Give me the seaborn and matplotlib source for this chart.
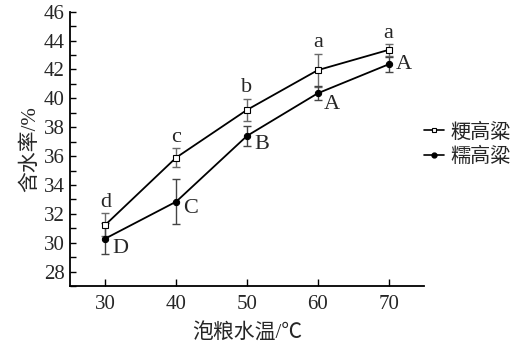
import numpy as np
import pandas as pd
import matplotlib
matplotlib.use("Agg")
import matplotlib.pyplot as plt
import seaborn as sns
from matplotlib.lines import Line2D
from matplotlib.ticker import MultipleLocator

temps = [30, 40, 50, 60, 70]
japonica = [31.25, 35.9, 39.2, 41.95, 43.35]
japonica_err = [0.8, 0.65, 0.78, 1.15, 0.4]
glutinous = [30.3, 32.85, 37.4, 40.35, 42.35]
glutinous_err = [1.05, 1.55, 0.68, 0.5, 0.5]
japonica_letters = ["d", "c", "b", "a", "a"]
glutinous_letters = ["D", "C", "B", "A", "A"]
series_names = ["粳高粱", "糯高粱"]

sns.set_style("ticks")
plt.rcParams["font.family"] = ["Liberation Serif", "Noto Sans CJK SC"]
plt.rcParams["axes.unicode_minus"] = False

df = pd.DataFrame({
    "temp": temps * 2,
    "value": japonica + glutinous,
    "series": [series_names[0]] * 5 + [series_names[1]] * 5,
})

fig = plt.figure(figsize=(5.15, 3.56), dpi=100)
ax = fig.add_axes([70 / 515, (356 - 286.2) / 356, 354 / 515, 274.6 / 356])

# error bars
ax.errorbar(temps, japonica, yerr=japonica_err, fmt="none", ecolor="#6a6a6a",
            elinewidth=1.0, capsize=3, capthick=1.0, zorder=2)
ax.errorbar(temps, glutinous, yerr=glutinous_err, fmt="none", ecolor="#444444",
            elinewidth=1.0, capsize=3, capthick=1.0, zorder=2)

sns.lineplot(data=df, x="temp", y="value", hue="series", style="series",
             palette=["black", "black"], markers=["s", "o"], dashes=False,
             markersize=4, linewidth=1.3, legend=False, ax=ax, zorder=3)
for ln in ax.get_lines():
    if ln.get_marker() == "s":
        ln.set_markerfacecolor("white")
        ln.set_markeredgecolor("black")
        ln.set_markeredgewidth(0.8)
        ln.set_markersize(4)
    elif ln.get_marker() == "o":
        ln.set_markerfacecolor("black")
        ln.set_markeredgecolor("black")
        ln.set_markersize(4.5)

ax.set_xlim(25, 75)
ax.set_ylim(27, 46)
ax.set_xticks(temps)
ax.set_yticks(np.arange(28, 47, 2))
ax.yaxis.set_minor_locator(MultipleLocator(1))
ax.tick_params(axis="both", which="both", direction="in", labelsize=15,
               width=1.0, color="black")
ax.tick_params(axis="y", which="major", length=4, pad=4)
ax.tick_params(axis="y", which="minor", length=4)
ax.tick_params(axis="x", which="major", length=5, pad=6)
for s in ["top", "right"]:
    ax.spines[s].set_visible(False)
for s in ["left", "bottom"]:
    ax.spines[s].set_linewidth(1.3)
    ax.spines[s].set_color("black")

ax.set_xlabel("泡粮水温/℃", fontsize=15, labelpad=7)
ax.set_ylabel("含水率/%", fontsize=15, labelpad=2)

# significance letters
for x, v, e, t in zip(temps, japonica, japonica_err, japonica_letters):
    ax.annotate(t, (x, v + e), xytext=(0, 1), textcoords="offset points",
                ha="center", va="bottom", fontsize=16)
offsets = [(5, -7.5), (5, -5), (5, -6.5), (4.5, -8), (5, 0)]
for (x, v, t), (dx, dy) in zip(zip(temps, glutinous, glutinous_letters), offsets):
    ax.annotate(t, (x, v), xytext=(dx, dy), textcoords="offset points",
                ha="left", va="center", fontsize=16)

handles = [
    Line2D([], [], color="black", lw=1.2, marker="s", markersize=3.5,
           markerfacecolor="white", markeredgecolor="black", markeredgewidth=0.8),
    Line2D([], [], color="black", lw=1.2, marker="o", markersize=3.5,
           markerfacecolor="black"),
]
fig.legend(handles, series_names, loc="center left",
           bbox_to_anchor=(424 / 515, 1 - 145 / 356), frameon=False,
           fontsize=14.5, handlelength=1.0, handletextpad=0.3,
           labelspacing=0.25, borderaxespad=0, borderpad=0)

fig.savefig("out.png", dpi=100)
